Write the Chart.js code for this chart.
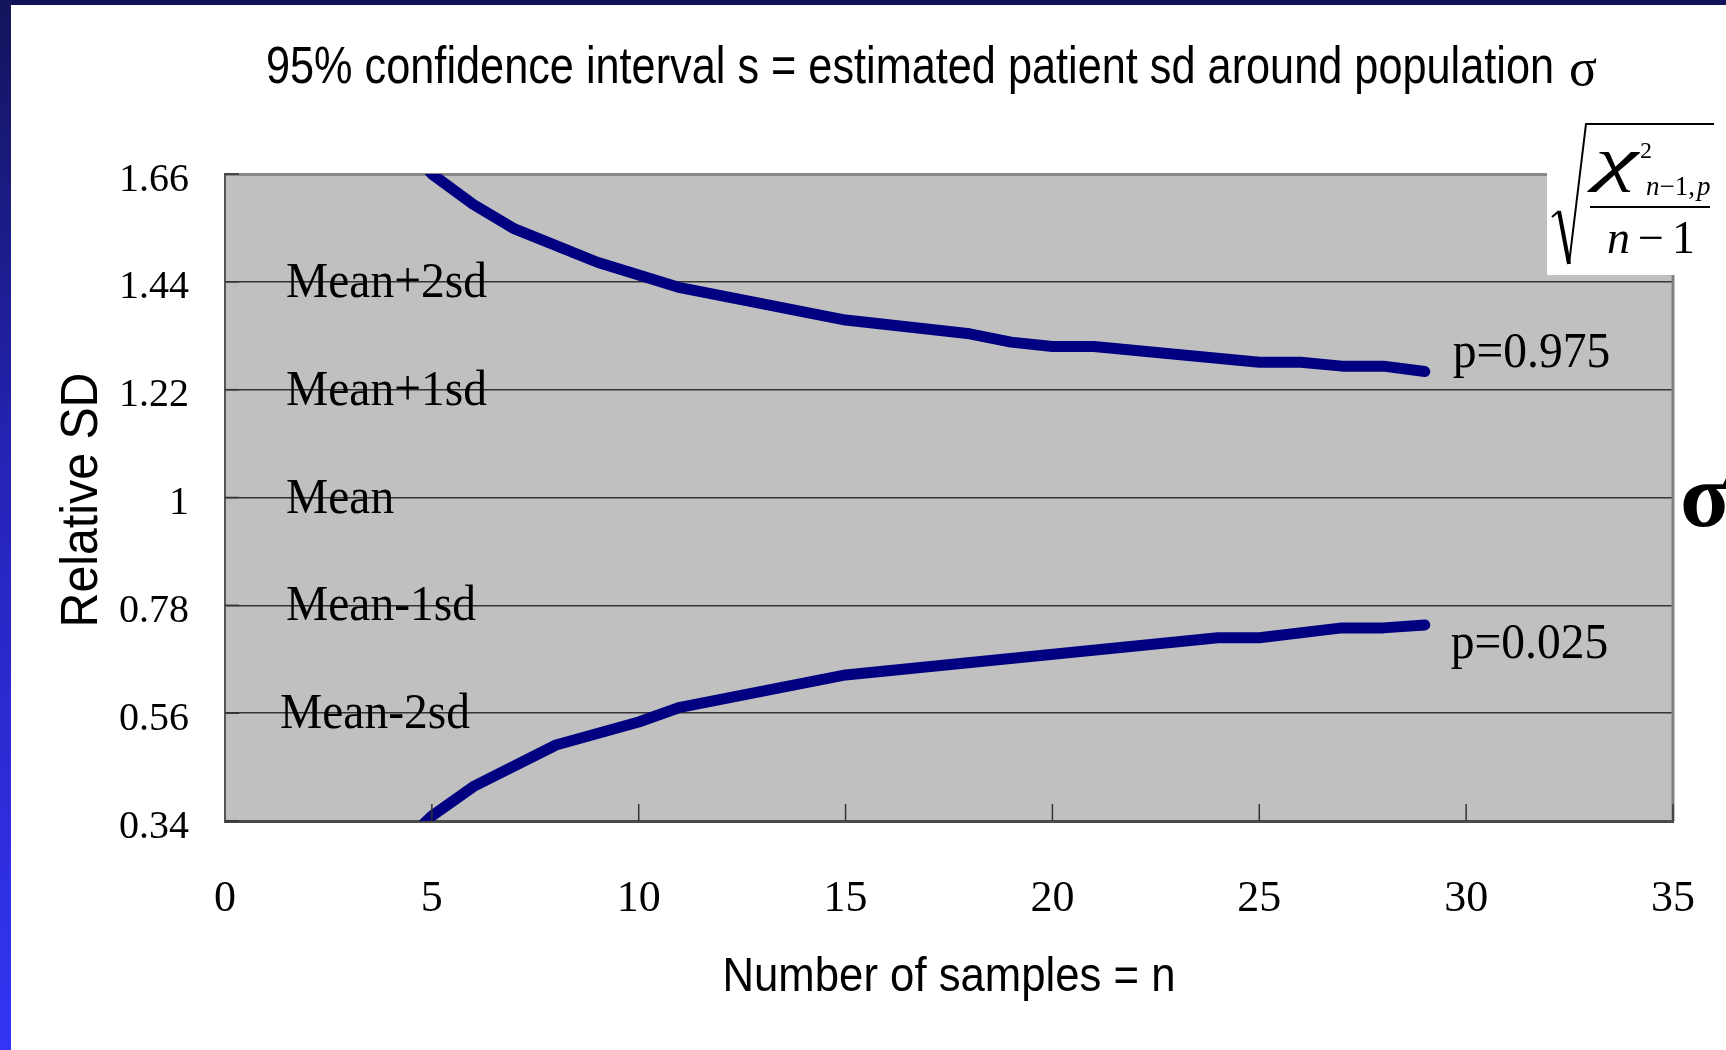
<!DOCTYPE html>
<html>
<head>
<meta charset="utf-8">
<script src="https://cdn.jsdelivr.net/npm/chart.js@4.4.1/dist/chart.umd.min.js"></script>
<style>
  html, body { margin: 0; padding: 0; background: #fff; overflow: hidden; }
  canvas { display: block; }
</style>
</head>
<body>
<canvas id="sdChart" width="1726" height="1050"></canvas>
<script>
// bends of the p=0.975 line (n, relative sd); n=4 lies above the axis and is clipped
const nUpper = [4, 5, 6, 7, 9, 11, 15, 18, 19, 20, 21, 25, 26, 27, 28, 29];
const sdUpper = [1.76, 1.66, 1.598, 1.548, 1.48, 1.428, 1.362, 1.334, 1.317, 1.308, 1.308, 1.276, 1.276, 1.268, 1.268, 1.257];
// bends of the p=0.025 line; n=4 lies below the axis and is clipped
const nLower = [4, 5, 6, 8, 10, 11, 15, 24, 25, 27, 28, 29];
const sdLower = [0.27, 0.35, 0.41, 0.495, 0.542, 0.572, 0.638, 0.714, 0.714, 0.734, 0.734, 0.74];

const xTicks = [0, 5, 10, 15, 20, 25, 30, 35];
const yTicks = [0.34, 0.56, 0.78, 1, 1.22, 1.44, 1.66];
const bandLabels = ['Mean+2sd', 'Mean+1sd', 'Mean', 'Mean-1sd', 'Mean-2sd'];
const bandValues = [1.44, 1.22, 1, 0.78, 0.56];
const pLabels = ['p=0.975', 'p=0.025'];

const NAVY = '#000080';
const SERIF = '"Liberation Serif", "Times New Roman", serif';
const SANS = '"Liberation Sans", Arial, sans-serif';

function toPoints(xs, ys) {
  return xs.map((x, i) => ({ x: x, y: ys[i] }));
}

// text squeezed horizontally, either by factor k or to a target width
function drawText(ctx, text, x, y, font, opt) {
  opt = opt || {};
  ctx.save();
  ctx.font = font;
  let k = opt.k || 1;
  if (opt.width) k = opt.width / ctx.measureText(text).width;
  ctx.translate(x, y);
  ctx.scale(k, 1);
  ctx.textAlign = opt.align || 'left';
  ctx.textBaseline = 'alphabetic';
  ctx.fillStyle = '#000';
  ctx.fillText(text, 0, 0);
  ctx.restore();
}

function line(ctx, x1, y1, x2, y2) {
  ctx.beginPath();
  ctx.moveTo(x1, y1);
  ctx.lineTo(x2, y2);
  ctx.stroke();
}

// draws pieces one after another, returns end x
function drawRun(ctx, parts, x, y) {
  parts.forEach(p => {
    ctx.font = p[1];
    ctx.fillText(p[0], x, y);
    x += ctx.measureText(p[0]).width + (p[2] || 0);
  });
  return x;
}

const slidePlugin = {
  id: 'slide',
  beforeDraw(chart) {
    const { ctx, chartArea: a, width, height } = chart;
    ctx.save();
    ctx.fillStyle = '#fff';
    ctx.fillRect(0, 0, width, height);
    ctx.fillStyle = '#12125a';
    ctx.fillRect(0, 0, width, 5);
    const g = ctx.createLinearGradient(0, 0, 0, height);
    g.addColorStop(0, '#14145c');
    g.addColorStop(0.45, '#2424b8');
    g.addColorStop(1, '#3434f4');
    ctx.fillStyle = g;
    ctx.fillRect(0, 0, 11, height);
    ctx.fillStyle = '#c0c0c0';
    ctx.fillRect(a.left, a.top, a.right - a.left, a.bottom - a.top);
    ctx.restore();
  },
  afterDraw(chart) {
    const { ctx, chartArea: a } = chart;
    const xs = chart.scales.x, ys = chart.scales.y;
    ctx.save();

    // right frame
    ctx.strokeStyle = '#808080';
    ctx.lineWidth = 3;
    line(ctx, a.right, a.top, a.right, a.bottom);

    // tick marks pointing inwards
    ctx.strokeStyle = '#333';
    ctx.lineWidth = 1.5;
    xTicks.forEach(v => {
      if (v === 0) return;
      const px = xs.getPixelForValue(v);
      line(ctx, px, a.bottom, px, a.bottom - 17);
    });
    yTicks.forEach(v => {
      const py = ys.getPixelForValue(v);
      line(ctx, a.left, py, a.left + 14, py);
    });

    // Mean +- sd labels on the grid lines
    bandLabels.forEach((t, i) => {
      const dx = t === 'Mean-2sd' ? 55 : 61;
      drawText(ctx, t, a.left + dx, ys.getPixelForValue(bandValues[i]) + 15, '50px ' + SERIF, { k: 0.95 });
    });

    // p labels at the ends of the lines
    const lu = nUpper.length - 1, ll = nLower.length - 1;
    drawText(ctx, pLabels[0], xs.getPixelForValue(nUpper[lu]) + 28, ys.getPixelForValue(sdUpper[lu]) - 5, '50px ' + SERIF, { k: 0.95 });
    drawText(ctx, pLabels[1], xs.getPixelForValue(nLower[ll]) + 26, ys.getPixelForValue(sdLower[ll]) + 33, '50px ' + SERIF, { k: 0.95 });

    // formula box: sqrt(chi^2_{n-1,p} / (n-1))
    ctx.fillStyle = '#fff';
    ctx.fillRect(1547, 110, 179, 165);
    ctx.fillStyle = '#000';
    ctx.strokeStyle = '#000';
    ctx.lineCap = 'butt';
    ctx.lineWidth = 2;
    line(ctx, 1552, 217, 1559, 211);
    ctx.lineWidth = 4;
    line(ctx, 1559, 211, 1569, 264);
    ctx.lineWidth = 2;
    ctx.beginPath();
    ctx.moveTo(1569, 264);
    ctx.lineTo(1586, 124);
    ctx.lineTo(1714, 124);
    ctx.stroke();
    drawText(ctx, '\u03C7', 1595, 179, 'italic 60px ' + SERIF, { width: 43 });
    ctx.textAlign = 'left';
    ctx.textBaseline = 'alphabetic';
    ctx.font = '24px ' + SERIF;
    ctx.fillText('2', 1640, 158);
    drawRun(ctx, [
      ['n', 'italic 27px ' + SERIF],
      ['\u22121,', '27px ' + SERIF, 2],
      ['p', 'italic 27px ' + SERIF]
    ], 1646, 195);
    ctx.lineWidth = 2;
    line(ctx, 1590, 207, 1710, 207);
    drawRun(ctx, [
      ['n', 'italic 46px ' + SERIF, 8],
      ['\u2212', '46px ' + SERIF, 8],
      ['1', '46px ' + SERIF]
    ], 1607, 253);

    // big sigma at the right edge
    ctx.font = 'bold 92px ' + SERIF;
    ctx.fillText('\u03C3', 1680, 526);

    // titles
    drawText(ctx, '95% confidence interval s = estimated patient sd around population', 266, 83, '52px ' + SANS, { width: 1288 });
    ctx.font = '52px ' + SERIF;
    ctx.fillText('\u03C3', 1569, 85);
    drawText(ctx, 'Number of samples = n', (a.left + a.right) / 2, 991, '48px ' + SANS, { width: 453, align: 'center' });
    ctx.translate(77, 500);
    ctx.rotate(-Math.PI / 2);
    drawText(ctx, 'Relative SD', 0, 20, '52px ' + SANS, { width: 255, align: 'center' });

    ctx.restore();
  }
};

new Chart(document.getElementById('sdChart'), {
  type: 'line',
  data: {
    datasets: [
      {
        label: 'p=0.975',
        data: toPoints(nUpper, sdUpper),
        borderColor: NAVY,
        borderWidth: 11,
        borderCapStyle: 'round',
        borderJoinStyle: 'round',
        pointRadius: 0,
        tension: 0,
        fill: false,
        clip: 0
      },
      {
        label: 'p=0.025',
        data: toPoints(nLower, sdLower),
        borderColor: NAVY,
        borderWidth: 11,
        borderCapStyle: 'round',
        borderJoinStyle: 'round',
        pointRadius: 0,
        tension: 0,
        fill: false,
        clip: 0
      }
    ]
  },
  options: {
    responsive: false,
    animation: false,
    events: [],
    layout: { padding: { top: 174, right: 53, left: 0, bottom: 0 } },
    plugins: {
      legend: { display: false },
      tooltip: { enabled: false },
      title: { display: false }
    },
    scales: {
      x: {
        type: 'linear',
        min: 0,
        max: 35,
        afterBuildTicks: s => { s.ticks = xTicks.map(v => ({ value: v })); },
        afterFit: s => { s.height = 229; s.paddingLeft = 0; s.paddingRight = 0; },
        grid: { display: false, drawTicks: false },
        border: { display: true, color: '#4a4a4a', width: 3 },
        ticks: {
          color: '#000',
          padding: 52,
          maxRotation: 0,
          font: { family: 'Liberation Serif', size: 44 },
          callback: v => String(v)
        }
      },
      y: {
        type: 'linear',
        min: 0.34,
        max: 1.66,
        afterBuildTicks: s => { s.ticks = yTicks.map(v => ({ value: v })); },
        afterFit: s => { s.width = 225; },
        grid: {
          drawTicks: false,
          color: c => (c.tick && c.tick.value === 1.66 ? '#888' : '#333'),
          lineWidth: c => (c.tick && c.tick.value === 1.66 ? 3 : 1.5)
        },
        border: { display: true, color: '#555', width: 2 },
        ticks: {
          color: '#000',
          padding: 36,
          labelOffset: 6,
          font: { family: 'Liberation Serif', size: 40 },
          callback: v => String(v)
        }
      }
    }
  },
  plugins: [slidePlugin]
});
</script>
</body>
</html>
